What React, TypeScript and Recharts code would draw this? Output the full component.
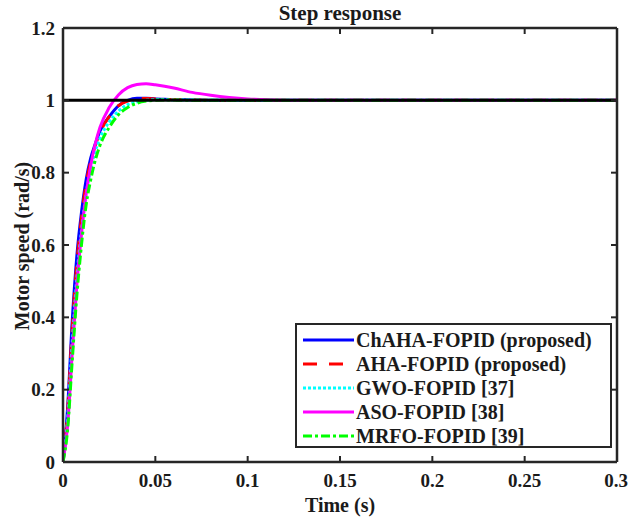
import React from "react";
import { LineChart, Line, XAxis, YAxis, ReferenceLine } from "recharts";

const time = [0, 0.0025, 0.005, 0.0075, 0.01, 0.0125, 0.015, 0.0175, 0.02, 0.025, 0.03, 0.035, 0.04, 0.045, 0.05, 0.055, 0.06, 0.07, 0.08, 0.09, 0.1, 0.11, 0.12, 0.15, 0.2, 0.25, 0.3];
const chaha = [0, 0.15, 0.39, 0.57, 0.69, 0.78, 0.84, 0.88, 0.915, 0.955, 0.985, 1.0, 1.006, 1.006, 1.004, 1.003, 1.002, 1.001, 1.0, 1.0, 1.0, 1.0, 1.0, 1.0, 1.0, 1.0, 1.0];
const aha = [0, 0.14, 0.37, 0.55, 0.675, 0.77, 0.83, 0.875, 0.91, 0.955, 0.985, 0.998, 1.004, 1.005, 1.004, 1.003, 1.002, 1.001, 1.0, 1.0, 1.0, 1.0, 1.0, 1.0, 1.0, 1.0, 1.0];
const gwo = [0, 0.12, 0.33, 0.51, 0.64, 0.74, 0.81, 0.86, 0.895, 0.94, 0.97, 0.988, 0.996, 1.0, 1.002, 1.002, 1.001, 1.001, 1.0, 1.0, 1.0, 1.0, 1.0, 1.0, 1.0, 1.0, 1.0];
const aso = [0, 0.10, 0.30, 0.49, 0.63, 0.74, 0.82, 0.88, 0.925, 0.98, 1.015, 1.035, 1.044, 1.046, 1.043, 1.039, 1.034, 1.022, 1.014, 1.008, 1.004, 1.002, 1.0, 1.0, 1.0, 1.0, 1.0];
const mrfo = [0, 0.09, 0.28, 0.46, 0.60, 0.71, 0.78, 0.835, 0.875, 0.925, 0.96, 0.98, 0.992, 0.998, 1.0, 1.001, 1.001, 1.0, 1.0, 1.0, 1.0, 1.0, 1.0, 1.0, 1.0, 1.0, 1.0];
const stepRef = 1;

const xTicks = [0, 0.05, 0.1, 0.15, 0.2, 0.25, 0.3];
const yTicks = [0, 0.2, 0.4, 0.6, 0.8, 1, 1.2];

const seriesNames = ["ChAHA-FOPID (proposed)", "AHA-FOPID (proposed)", "GWO-FOPID [37]", "ASO-FOPID [38]", "MRFO-FOPID [39]"];
const seriesKeys = ["chaha", "aha", "gwo", "aso", "mrfo"];
const seriesColors = ["#0000ff", "#ff0000", "#00ffff", "#ff00ff", "#00ff00"];
const seriesDash = ["", "14 12", "3 2", "", "9 3 3 3"];

const data = time.map((t, i) => ({
  t,
  chaha: chaha[i],
  aha: aha[i],
  gwo: gwo[i],
  aso: aso[i],
  mrfo: mrfo[i],
}));

const FONT = "'Liberation Serif', 'Times New Roman', serif";
const AX = "#262626";
const TXT = "#1a1a1a";

const tickStyle = { fontFamily: FONT, fontWeight: 700, fontSize: 19, fill: TXT };
const noLabel = () => <g />;

export default function App() {
  return (
    <div style={{ position: "absolute", left: 0, top: 0, width: 628, height: 519, background: "#fff", fontFamily: FONT }}>
      <LineChart width={628} height={519} data={data} margin={{ top: 0, right: 0, bottom: 0, left: 0 }}>
        <XAxis
          xAxisId="b"
          dataKey="t"
          type="number"
          domain={[0, 0.3]}
          ticks={xTicks}
          allowDataOverflow
          height={57}
          tickSize={-6}
          tickMargin={18}
          tick={tickStyle}
          tickFormatter={(v: number) => String(v)}
          stroke={AX}
          strokeWidth={2.5}
          tickLine={{ stroke: AX, strokeWidth: 2 }}
        />
        <XAxis
          xAxisId="t"
          orientation="top"
          dataKey="t"
          type="number"
          domain={[0, 0.3]}
          ticks={xTicks}
          allowDataOverflow
          height={28}
          tickSize={-6}
          tick={noLabel}
          stroke={AX}
          strokeWidth={2.5}
          tickLine={{ stroke: AX, strokeWidth: 2 }}
        />
        <YAxis
          yAxisId="l"
          type="number"
          domain={[0, 1.2]}
          ticks={yTicks}
          allowDataOverflow
          width={63}
          tickSize={-6}
          tickMargin={14}
          tick={tickStyle}
          tickFormatter={(v: number) => String(v)}
          stroke={AX}
          strokeWidth={2.5}
          tickLine={{ stroke: AX, strokeWidth: 2 }}
        />
        <YAxis
          yAxisId="r"
          orientation="right"
          type="number"
          domain={[0, 1.2]}
          ticks={yTicks}
          allowDataOverflow
          width={11}
          tickSize={-6}
          tick={noLabel}
          stroke={AX}
          strokeWidth={2.5}
          tickLine={{ stroke: AX, strokeWidth: 2 }}
        />
        {seriesKeys.map((k, i) => (
          <Line
            key={k}
            xAxisId="b"
            yAxisId="l"
            dataKey={k}
            type="monotone"
            stroke={seriesColors[i]}
            strokeWidth={3}
            strokeDasharray={seriesDash[i] || undefined}
            dot={false}
            activeDot={false}
            isAnimationActive={false}
          />
        ))}
        <ReferenceLine xAxisId="b" yAxisId="l" y={stepRef} stroke="#000" strokeWidth={3} />
      </LineChart>

      <div style={{ position: "absolute", left: 0, width: 680, top: 1, lineHeight: "24px", textAlign: "center", fontWeight: 700, fontSize: 21, color: TXT }}>
        Step response
      </div>
      <div style={{ position: "absolute", left: 0, width: 680, top: 494, lineHeight: "22px", textAlign: "center", fontWeight: 700, fontSize: 20, color: TXT }}>
        Time (s)
      </div>
      <div
        style={{
          position: "absolute",
          left: 22,
          top: 246,
          width: 260,
          marginLeft: -130,
          marginTop: -11,
          height: 22,
          lineHeight: "22px",
          textAlign: "center",
          transform: "rotate(-90deg)",
          fontWeight: 700,
          fontSize: 20,
          color: TXT,
          whiteSpace: "nowrap",
        }}
      >
        Motor speed (rad/s)
      </div>

      <div
        style={{
          position: "absolute",
          left: 295,
          top: 323,
          width: 313,
          height: 118,
          border: `2px solid ${AX}`,
          background: "#fff",
          boxSizing: "content-box",
          paddingTop: 3,
        }}
      >
        {seriesNames.map((n, i) => (
          <div key={n} style={{ display: "flex", alignItems: "center", height: 24, lineHeight: "24px" }}>
            <svg width={58} height={24} style={{ marginLeft: 4, flex: "none" }}>
              <line x1={2} y1={12} x2={53} y2={12} stroke={seriesColors[i]} strokeWidth={3} strokeDasharray={seriesDash[i] || undefined} />
            </svg>
            <span style={{ fontWeight: 700, fontSize: 20, color: TXT, marginLeft: -3, whiteSpace: "nowrap" }}>{n}</span>
          </div>
        ))}
      </div>
    </div>
  );
}
